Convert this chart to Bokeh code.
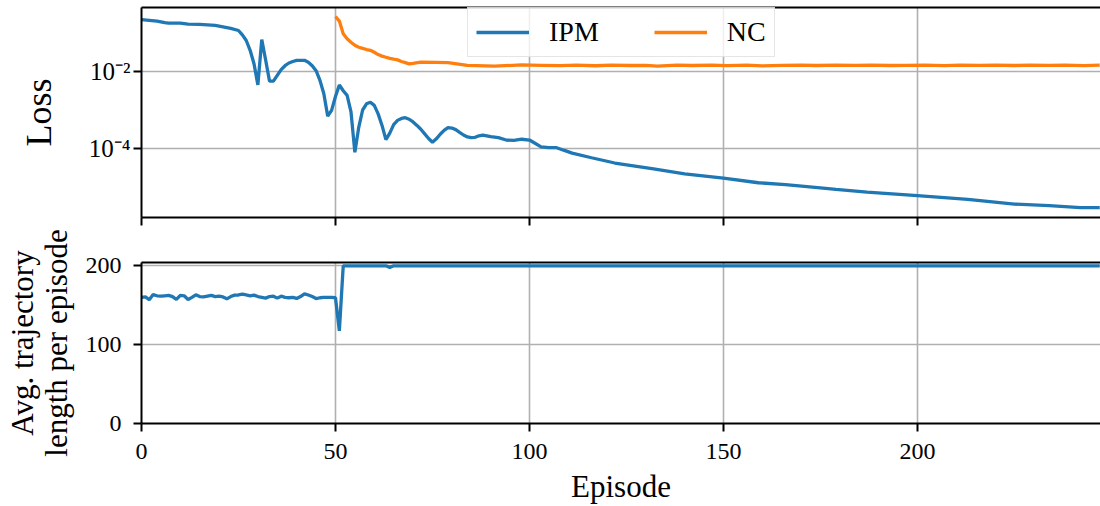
from bokeh.plotting import figure
from bokeh.layouts import column
from bokeh.models import (Range1d, FixedTicker, CustomJSTickFormatter, Legend,
                          LegendItem, LinearAxis)
from bokeh.embed import file_html
from bokeh.resources import INLINE

FONT = "Liberation Serif"
BLUE = "#1f77b4"
ORANGE = "#ff7f0e"

# ---------------- data ----------------
ipm_loss_episode = [0, 2, 4, 6, 7, 10, 12, 15, 19, 21, 23, 25, 26, 27, 28, 29, 30, 31, 32, 33,
                    34, 35, 36, 37, 38, 39, 40, 42, 43, 44, 45, 46, 47, 48, 49, 50, 51, 52,
                    53, 54, 55, 56, 57, 58, 59, 60, 61, 62, 63, 64, 65, 66, 67, 68, 69, 70,
                    71, 72, 73, 74, 75, 76, 77, 78, 79, 80, 81, 82, 83, 84, 85, 86, 87, 88,
                    89, 90, 92, 94, 96, 98, 100, 101, 103, 105, 107, 109, 111, 116, 122, 132,
                    140, 150, 159, 166, 175, 179, 187, 200, 213, 225, 234, 242, 247]
ipm_loss = [0.2213, 0.2138, 0.2042, 0.1862, 0.1799, 0.1799, 0.1698, 0.1679, 0.1567, 0.1445,
            0.1318, 0.1161, 0.0891, 0.0638, 0.0355, 0.01585, 0.00447, 0.0676, 0.01995,
            0.00562, 0.00562, 0.00794, 0.01122, 0.01413, 0.0166, 0.0182, 0.0195, 0.0195,
            0.0174, 0.01413, 0.01047, 0.00589, 0.00263, 0.000692, 0.000977, 0.00224, 0.00447,
            0.00316, 0.0024, 0.000891, 0.0000794, 0.000355, 0.001, 0.001445, 0.001585,
            0.001318, 0.000794, 0.000398, 0.00017, 0.000251, 0.000417, 0.000537, 0.000603,
            0.000631, 0.000575, 0.00049, 0.000398, 0.000316, 0.00024, 0.000182, 0.000145,
            0.000178, 0.000234, 0.000295, 0.000347, 0.000339, 0.000309, 0.000263, 0.000224,
            0.0002, 0.000191, 0.000195, 0.000214, 0.000224, 0.000214, 0.000204, 0.000191,
            0.000166, 0.000162, 0.000174, 0.000166, 0.000145, 0.00011, 0.000105, 0.000105,
            0.0000891, 0.0000759, 5.75e-5, 4.2e-5, 2.95e-5, 2.19e-5, 1.70e-5, 1.29e-5,
            1.15e-5, 9.5e-6, 8.7e-6, 7.4e-6, 6.0e-6, 4.8e-6, 3.6e-6, 3.3e-6, 2.9e-6, 2.9e-6]

nc_loss_episode = [50, 51, 52, 53, 54, 55, 56, 57, 58, 59, 60, 61, 62, 63, 64, 65, 66, 67, 68,
                   69, 70, 72, 76, 79, 84, 91, 98, 103, 108, 112, 117, 121, 126, 130, 133,
                   138, 142, 147, 151, 156, 160, 165, 170, 174, 179, 184, 188, 193, 197, 202,
                   207, 211, 216, 220, 225, 229, 234, 238, 243, 247]
nc_loss = [0.269, 0.204, 0.0955, 0.0708, 0.0575, 0.0479, 0.0427, 0.0398, 0.0372, 0.0355,
           0.0316, 0.0275, 0.0251, 0.0234, 0.0219, 0.0209, 0.0200, 0.0182, 0.0170, 0.0158,
           0.0162, 0.0174, 0.0172, 0.0170, 0.0145, 0.0138, 0.0148, 0.0145, 0.0142, 0.0146,
           0.0141, 0.0147, 0.0143, 0.0145, 0.0138, 0.0146, 0.0143, 0.0147, 0.0142, 0.0146,
           0.0140, 0.0145, 0.0147, 0.0143, 0.0146, 0.0144, 0.0147, 0.0143, 0.0145, 0.0146,
           0.0142, 0.0146, 0.0144, 0.0147, 0.0143, 0.0146, 0.0144, 0.0146, 0.0142, 0.0147]

traj_episode = list(range(0, 53)) + [63, 64, 65, 247]
traj_length = [160, 160.5, 157, 163.5, 162, 161.5, 162, 162.4, 161, 157.3, 162.4, 162, 157.3,
               160, 163.2, 161, 160.6, 161.5, 162.4, 161, 161.5, 160.5, 158.1, 161, 162.8,
               163, 164.1, 163, 162, 162.8, 161, 160, 159, 161, 161.5, 159, 161.5, 160,
               159.5, 160, 158.6, 161, 164.5, 163, 161, 158.5, 159.5, 160, 160, 160, 159.5,
               117.6, 200, 200, 198, 200, 200]

x_ticks = [0, 50, 100, 150, 200]
loss_ticks = [1e-4, 1e-2]
len_ticks = [0, 100, 200]
X_MAX = 247.2
LOSS_RANGE = (10 ** -5.792, 10 ** -0.338)
LEN_RANGE = (0, 204.2)

# ---------------- helpers ----------------
def style_axis(ax, tick_size="24px"):
    ax.axis_line_color = "black"
    ax.axis_line_width = 2
    ax.major_tick_line_color = "black"
    ax.major_tick_line_width = 2
    ax.major_tick_out = 8
    ax.major_tick_in = 0
    ax.minor_tick_out = 0
    ax.minor_tick_in = 0
    ax.major_label_text_font = FONT
    ax.major_label_text_font_size = tick_size
    ax.major_label_text_color = "black"
    ax.axis_label_text_font = FONT
    ax.axis_label_text_font_style = "normal"
    ax.axis_label_text_color = "black"


def spine_above(p):
    sp = LinearAxis(ticker=FixedTicker(ticks=[]))
    sp.axis_line_color = "black"
    sp.axis_line_width = 2
    sp.major_tick_out = 0
    sp.major_tick_in = 0
    sp.minor_tick_out = 0
    sp.minor_tick_in = 0
    sp.major_label_text_font_size = "0px"
    p.add_layout(sp, "above")


def style_grid(p):
    for g in (p.xgrid, p.ygrid):
        g.grid_line_color = "#b0b0b0"
        g.grid_line_width = 1.6


x_range = Range1d(0, X_MAX)

# ---------------- top panel ----------------
p1 = figure(width=1100, height=226, x_range=x_range, y_range=Range1d(*LOSS_RANGE),
            y_axis_type="log", output_backend="svg", toolbar_location=None,
            min_border_left=141, min_border_right=0, min_border_top=7, min_border_bottom=9)
p1.outline_line_color = None
r_ipm = p1.line(ipm_loss_episode, ipm_loss, line_color=BLUE, line_width=3.3)
r_nc = p1.line(nc_loss_episode, nc_loss, line_color=ORANGE, line_width=3.3)

style_axis(p1.xaxis[0])
p1.xaxis.ticker = FixedTicker(ticks=x_ticks)
p1.xaxis.formatter = CustomJSTickFormatter(code="return '';")
p1.xaxis.major_label_text_font_size = "0px"
p1.xaxis.major_label_standoff = 0
style_axis(p1.yaxis[0], tick_size="25px")
p1.yaxis.ticker = FixedTicker(ticks=loss_ticks)
p1.yaxis.formatter = CustomJSTickFormatter(code="""
const e = Math.round(Math.log10(tick));
const sup = {'-': '\u207b', '0': '\u2070', '1': '\u00b9', '2': '\u00b2', '3': '\u00b3',
             '4': '\u2074', '5': '\u2075', '6': '\u2076', '7': '\u2077', '8': '\u2078', '9': '\u2079'};
return '10' + String(e).split('').map(c => sup[c]).join('');
""")
p1.yaxis.major_label_standoff = 3
p1.yaxis.axis_label = "Loss"
p1.yaxis.axis_label_text_font_size = "36px"
p1.yaxis.axis_label_standoff = 27
spine_above(p1)
style_grid(p1)

legend = Legend(items=[LegendItem(label="IPM", renderers=[r_ipm]),
                       LegendItem(label="NC", renderers=[r_nc])],
                orientation="horizontal", location=(326, 160))
legend.label_text_font = FONT
legend.label_text_font_size = "28px"
legend.label_text_color = "black"
legend.glyph_width = 53
legend.glyph_height = 20
legend.label_standoff = 20
legend.spacing = 55
legend.padding = 8
legend.margin = 0
legend.border_line_color = "#cccccc"
legend.border_line_width = 1.5
legend.background_fill_alpha = 0.8
p1.add_layout(legend)

# ---------------- bottom panel ----------------
p2 = figure(width=1100, height=280, x_range=x_range, y_range=Range1d(*LEN_RANGE),
            output_backend="svg", toolbar_location=None,
            min_border_left=141, min_border_right=0, min_border_top=36, min_border_bottom=83)
p2.outline_line_color = None
p2.line(traj_episode, traj_length, line_color=BLUE, line_width=3.3)

style_axis(p2.xaxis[0])
p2.xaxis.ticker = FixedTicker(ticks=x_ticks)
p2.xaxis.major_label_standoff = 12
p2.xaxis.axis_label = "Episode"
p2.xaxis.axis_label_text_font_size = "31px"
p2.xaxis.axis_label_text_line_height = 1.0
p2.xaxis.axis_label_standoff = 7
style_axis(p2.yaxis[0])
p2.yaxis.ticker = FixedTicker(ticks=len_ticks)
p2.yaxis.major_label_standoff = 12
p2.yaxis.axis_label = "Avg. trajectory\nlength per episode"
p2.yaxis.axis_label_text_font_size = "31px"
p2.yaxis.axis_label_text_line_height = 0.95
p2.yaxis.axis_label_standoff = 9
spine_above(p2)
style_grid(p2)

layout = column(p1, p2, spacing=0)
open("out.html", "w").write(file_html(layout, INLINE))
